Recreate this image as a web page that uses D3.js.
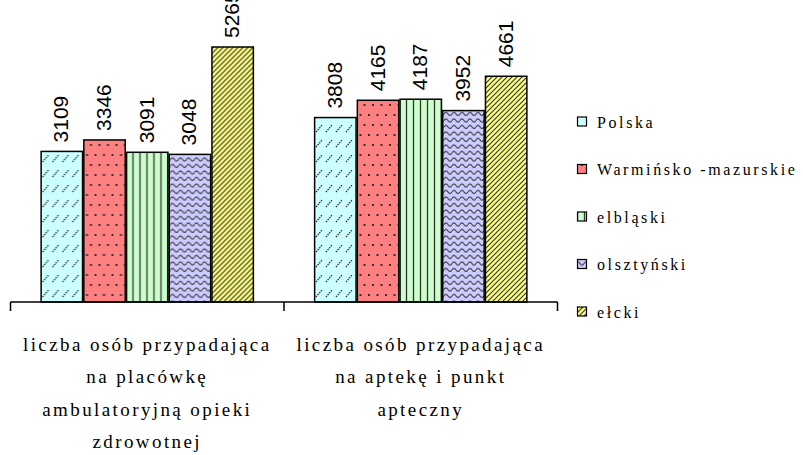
<!DOCTYPE html>
<html>
<head>
<meta charset="utf-8">
<script src="https://cdn.jsdelivr.net/npm/d3@7"></script>
<style>
  html, body { margin: 0; padding: 0; background: #fff; }
  svg { display: block; }
  .val { font-family: "Liberation Sans", Arial, sans-serif; }
  .ser { font-family: "Liberation Serif", "Times New Roman", serif; }
</style>
</head>
<body>
<svg id="chart" width="803" height="455"></svg>
<script>
// Liczba osób przypadająca na placówkę / aptekę
const categories = [
  ["liczba osób przypadająca", "na placówkę", "ambulatoryjną opieki", "zdrowotnej"],
  ["liczba osób przypadająca", "na aptekę i punkt", "apteczny"]
];
const seriesNames = ["Polska", "Warmińsko -mazurskie", "elbląski", "olsztyński", "ełcki"];
const polska = [3109, 3808];
const warminsko = [3346, 4165];
const elblaski = [3091, 4187];
const olsztynski = [3048, 3952];
const elcki = [5265, 4661];
const seriesValues = [polska, warminsko, elblaski, olsztynski, elcki];
const fills = ["#CCFFFF", "#FF8080", "#CCFFCC", "#CCCCFF", "#FFFF80"];

const svg = d3.select("#chart");
const defs = svg.append("defs");
const ink = "#333";

// fill patterns, one per series
function pat(id, w, h, bg) {
  const p = defs.append("pattern").attr("id", id)
    .attr("patternUnits", "userSpaceOnUse").attr("width", w).attr("height", h);
  p.append("rect").attr("width", w).attr("height", h).attr("fill", bg);
  return p;
}
// Polska: short dotted diagonal dashes
{
  const p = pat("p0", 10, 15, fills[0]);
  p.append("path").attr("d", "M2,12 L8,5").attr("stroke", ink)
    .attr("stroke-width", 1.3).attr("stroke-dasharray", "1.5,1");
}
// Warmińsko-mazurskie: staggered dots
{
  const p = pat("p1", 17, 20, fills[1]);
  [[4, 5], [12.5, 5], [0, 15], [8.5, 15], [17, 15]].forEach(([cx, cy]) =>
    p.append("rect").attr("x", cx - 1).attr("y", cy - 1).attr("width", 2).attr("height", 2).attr("fill", ink));
}
// elbląski: vertical lines
{
  const p = pat("p2", 7, 10, fills[2]);
  p.append("line").attr("x1", 3.5).attr("x2", 3.5).attr("y1", 0).attr("y2", 10)
    .attr("stroke", ink).attr("stroke-width", 1.3);
}
// olsztyński: wavy lines
{
  const p = pat("p3", 8, 6.5, fills[3]);
  p.append("path").attr("d", "M0,3.5 Q2,0.5 4,3.5 T8,3.5").attr("fill", "none")
    .attr("stroke", ink).attr("stroke-width", 1.1);
}
// ełcki: dense upward diagonals
{
  const p = pat("p4", 5, 5, fills[4]);
  p.append("path").attr("d", "M-1,1 L1,-1 M0,5 L5,0 M4,6 L6,4").attr("stroke", ink)
    .attr("stroke-width", 1.1);
}

// plot geometry
const baseY = 302, axisLeft = 10.5, axisRight = 557.5;
const x0 = d3.scaleBand().domain(d3.range(categories.length)).range([axisLeft, axisRight]);
const gw = x0.bandwidth();
const x1 = d3.scaleBand().domain(d3.range(seriesNames.length))
  .range([gw * 0.112, gw * 0.888]).paddingInner(0.03);
const y = d3.scaleLinear().domain([0, 6000]).range([baseY, 11.4]);

// bars with rotated value labels
const groups = svg.append("g").selectAll("g").data(categories).join("g")
  .attr("transform", (d, i) => `translate(${x0(i)},0)`);

groups.each(function (cat, ci) {
  const g = d3.select(this);
  seriesValues.forEach((vals, si) => {
    const v = vals[ci];
    g.append("rect")
      .attr("x", x1(si)).attr("y", y(v))
      .attr("width", x1.bandwidth()).attr("height", y(0) - y(v))
      .attr("fill", `url(#p${si})`).attr("stroke", "#000").attr("stroke-width", 1.5);
    g.append("text").attr("class", "val")
      .attr("transform", `translate(${x1(si) + x1.bandwidth() / 2 - 1},${y(v) - 9}) rotate(-90)`)
      .attr("dominant-baseline", "central")
      .attr("font-size", 21).attr("fill", "#000")
      .text(v);
  });
});

// category axis
const axis = svg.append("g");
axis.append("line").attr("x1", axisLeft).attr("x2", axisRight).attr("y1", baseY).attr("y2", baseY)
  .attr("stroke", "#000").attr("stroke-width", 1.5);
const tickXs = [axisLeft, ...categories.map((c, i) => x0(i) + gw)];
axis.selectAll("line.tick").data(tickXs).join("line").attr("class", "tick")
  .attr("x1", d => d).attr("x2", d => d).attr("y1", baseY).attr("y2", baseY + 9)
  .attr("stroke", "#000").attr("stroke-width", 1.5);

// category labels
categories.forEach((lines, i) => {
  const t = axis.append("text").attr("class", "ser")
    .attr("text-anchor", "middle")
    .attr("font-size", 19).attr("letter-spacing", 2.4).attr("fill", "#000");
  lines.forEach((ln, li) => {
    t.append("tspan").attr("x", x0(i) + gw / 2).attr("y", 351 + li * 32.3).text(ln);
  });
});

// legend
const legend = svg.append("g");
seriesNames.forEach((name, i) => {
  const cy = 122 + i * 47.5;
  legend.append("rect").attr("x", 577.5).attr("y", cy - 5).attr("width", 9).attr("height", 9)
    .attr("fill", `url(#p${i})`).attr("stroke", "#000").attr("stroke-width", 1.2);
  legend.append("text").attr("class", "ser").attr("x", 597).attr("y", cy).attr("dominant-baseline", "central")
    .attr("font-size", 16).attr("letter-spacing", 2.6).attr("fill", "#000")
    .text(name);
});
</script>
</body>
</html>
